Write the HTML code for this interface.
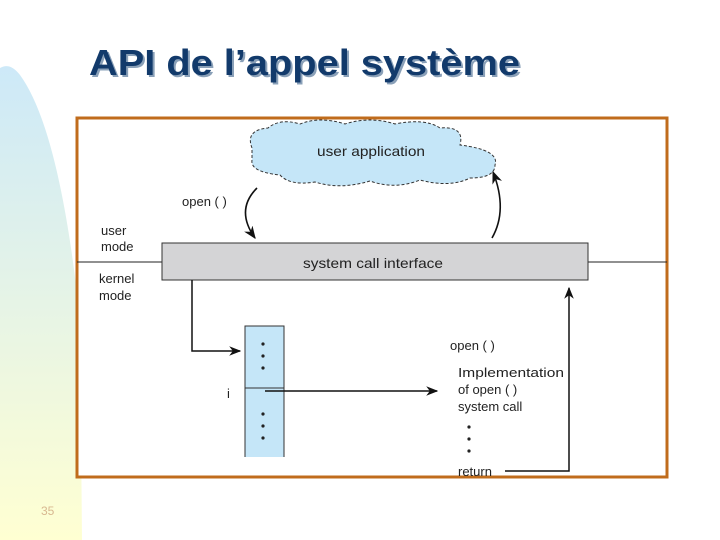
<!DOCTYPE html>
<html><head><meta charset="utf-8"><style>
html,body{margin:0;padding:0;background:#fff}
svg{display:block}
text{font-family:"Liberation Sans",sans-serif}
</style></head><body>
<svg width="720" height="540" viewBox="0 0 720 540" xmlns="http://www.w3.org/2000/svg">
<defs>
<linearGradient id="bg" x1="0" y1="0" x2="0" y2="1">
<stop offset="0" stop-color="#cde9f8"/>
<stop offset="0.5" stop-color="#e6f4e6"/>
<stop offset="1" stop-color="#ffffd2"/>
</linearGradient>
<marker id="ah" viewBox="0 0 10 10" refX="9" refY="5" markerWidth="8" markerHeight="8" orient="auto"><path d="M0,1 L10,5 L0,9 L3,5z" fill="#111"/></marker>
</defs>
<path d="M0,68 Q10,62 20,75 Q60,130 80,320 L82,540 L0,540z" fill="url(#bg)"/>
<text x="89" y="75" font-size="36" font-weight="bold" fill="#8aa0b8" transform="translate(2,2)" textLength="431" lengthAdjust="spacingAndGlyphs">API de l’appel système</text>
<text x="89" y="75" font-size="36" font-weight="bold" fill="#123a6b" textLength="431" lengthAdjust="spacingAndGlyphs">API de l’appel système</text>
<rect x="77" y="118" width="590" height="359" fill="#fff" stroke="#c06c1c" stroke-width="3"/>
<path d="M252,148 Q245,130 268,128 Q280,118 300,124 Q320,116 345,124 Q370,116 395,124 Q425,118 440,128 Q465,126 460,145 Q500,150 495,165 Q495,178 470,178 Q450,188 420,180 Q395,190 370,181 Q340,190 315,182 Q290,186 280,175 Q250,172 252,160z" fill="#c5e6f8" stroke="#333" stroke-width="1" stroke-dasharray="3,2"/>
<text x="317" y="156" font-size="14" fill="#222" textLength="108" lengthAdjust="spacingAndGlyphs">user application</text>
<path d="M257,188 Q235,210 255,238" fill="none" stroke="#111" stroke-width="1.6" marker-end="url(#ah)"/>
<path d="M492,238 Q508,210 493,172" fill="none" stroke="#111" stroke-width="1.6" marker-end="url(#ah)"/>
<text x="182" y="206" font-size="13" fill="#222">open ( )</text>
<line x1="77" y1="262" x2="667" y2="262" stroke="#222" stroke-width="1"/>
<rect x="162" y="243" width="426" height="37" fill="#d4d4d6" stroke="#333" stroke-width="1"/>
<text x="303" y="268" font-size="14" fill="#222" textLength="140" lengthAdjust="spacingAndGlyphs">system call interface</text>
<text x="101" y="235" font-size="13" fill="#222">user</text>
<text x="101" y="251" font-size="13" fill="#222">mode</text>
<text x="99" y="283" font-size="13" fill="#222">kernel</text>
<text x="99" y="300" font-size="13" fill="#222">mode</text>
<rect x="245" y="326" width="39" height="131" fill="#c5e6f8"/>
<path d="M245,457 V326 H284 V457" fill="none" stroke="#333" stroke-width="1"/>
<line x1="245" y1="388" x2="284" y2="388" stroke="#333" stroke-width="1"/>
<g fill="#222"><circle cx="263" cy="344" r="1.6"/><circle cx="263" cy="356" r="1.6"/><circle cx="263" cy="368" r="1.6"/><circle cx="263" cy="414" r="1.6"/><circle cx="263" cy="426" r="1.6"/><circle cx="263" cy="438" r="1.6"/>
<circle cx="469" cy="427" r="1.6"/><circle cx="469" cy="439" r="1.6"/><circle cx="469" cy="451" r="1.6"/></g>
<path d="M192,280 V351 H240" fill="none" stroke="#111" stroke-width="1.5" marker-end="url(#ah)"/>
<line x1="265" y1="391" x2="437" y2="391" stroke="#111" stroke-width="1.5" marker-end="url(#ah)"/>
<text x="227" y="398" font-size="13" fill="#222">i</text>
<text x="450" y="350" font-size="13" fill="#222">open ( )</text>
<text x="458" y="377" font-size="13" fill="#222" textLength="106" lengthAdjust="spacingAndGlyphs">Implementation</text>
<text x="458" y="394" font-size="13" fill="#222">of open ( )</text>
<text x="458" y="411" font-size="13" fill="#222">system call</text>
<text x="458" y="476" font-size="13" fill="#222">return</text>
<path d="M505,471 H569 V288" fill="none" stroke="#111" stroke-width="1.5" marker-end="url(#ah)"/>
<text x="41" y="515" font-size="12" fill="#d8b890">35</text>
</svg>
</body></html>
